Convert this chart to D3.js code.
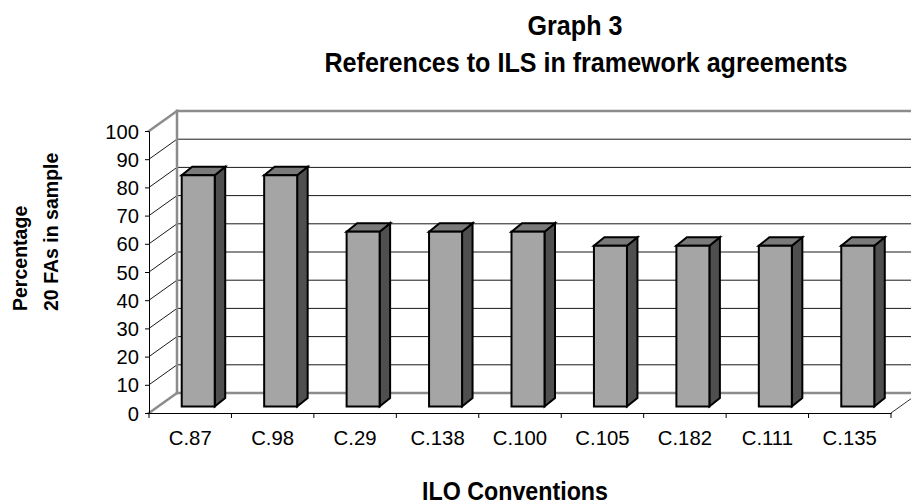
<!DOCTYPE html>
<html>
<head>
<meta charset="utf-8">
<script src="https://cdn.jsdelivr.net/npm/d3@7"></script>
<style>
  html, body { margin: 0; padding: 0; background: #ffffff; }
  svg { display: block; }
  text { font-family: "Liberation Sans", Arial, Helvetica, sans-serif; fill: #000; }
</style>
</head>
<body>
<svg id="chart" width="911" height="504"></svg>
<script>
// Share of the 20 framework agreements that cite each ILO convention
const categories = ["C.87", "C.98", "C.29", "C.138", "C.100", "C.105", "C.182", "C.111", "C.135"];
const values = [82, 82, 62, 62, 62, 57, 57, 57, 57];
const yTicks = [0, 10, 20, 30, 40, 50, 60, 70, 80, 90, 100];
const titleLines = ["Graph 3", "References to ILS in framework agreements"];
const yTitleLines = ["Percentage", "20 FAs in sample"];
const xTitle = "ILO Conventions";

const svg = d3.select("#chart");

// Front plane of the 3-D box
const x = d3.scaleBand().domain(categories).range([149, 891]).paddingInner(0).paddingOuter(0);
const y = d3.scaleLinear().domain([0, 100]).range([413, 131]);

// Oblique depth of the box (front plane -> back wall)
const depth = { dx: 28, dy: -20 };
const back = (px, py) => [px + depth.dx, py + depth.dy];

const wallGray = "#8c8c8c";
const x0 = x.range()[0], x1 = x.range()[1];

// Back-wall gridlines
svg.append("g").selectAll("line").data(yTicks.filter(t => t > 0 && t < 100)).join("line")
  .attr("x1", x0 + depth.dx).attr("x2", x1 + depth.dx)
  .attr("y1", d => y(d) + depth.dy).attr("y2", d => y(d) + depth.dy)
  .attr("stroke", "#1a1a1a").attr("stroke-width", 1);

// Side-wall gridlines running from the value axis to the back wall
svg.append("g").selectAll("line").data(yTicks.filter(t => t > 0 && t < 100)).join("line")
  .attr("x1", x0).attr("y1", d => y(d))
  .attr("x2", x0 + depth.dx).attr("y2", d => y(d) + depth.dy)
  .attr("stroke", "#1a1a1a").attr("stroke-width", 1);

// Wall and floor edges
const edges = [
  [[x0, y(100)], back(x0, y(100))],               // side wall top
  [back(x0, y(100)), back(x1, y(100))],           // back wall top
  [back(x0, y(100)), back(x0, y(0))],             // wall corner
  [[x0, y(0)], back(x0, y(0))],                   // floor left edge
  [back(x0, y(0)), back(x1, y(0))]                // floor back edge
];
svg.append("g").selectAll("line").data(edges).join("line")
  .attr("x1", d => d[0][0]).attr("y1", d => d[0][1])
  .attr("x2", d => d[1][0]).attr("y2", d => d[1][1])
  .attr("stroke", wallGray).attr("stroke-width", 2.5).attr("stroke-linecap", "square");

// Floor right edge
svg.append("line")
  .attr("x1", x1).attr("y1", y(0))
  .attr("x2", back(x1, y(0))[0]).attr("y2", back(x1, y(0))[1])
  .attr("stroke", "#333").attr("stroke-width", 1);

// Columns: front face, right side, top
const bar = { offX: 8, offY: -6.5, width: 33, dx: 10.5, dy: -8.5 };
const bars = svg.append("g").selectAll("g").data(categories.map((c, i) => ({ c, v: values[i] }))).join("g");

bars.each(function (d) {
  const g = d3.select(this);
  const cx = x(d.c) + x.bandwidth() / 2 + bar.offX;
  const l = cx - bar.width / 2, r = cx + bar.width / 2;
  const b = y(0) + bar.offY, t = y(d.v) + bar.offY;
  const poly = pts => pts.map(p => p.join(",")).join(" ");
  g.append("polygon")
    .attr("points", poly([[r, b], [r, t], [r + bar.dx, t + bar.dy], [r + bar.dx, b + bar.dy]]))
    .attr("fill", "#4f4f4f");
  g.append("polygon")
    .attr("points", poly([[l, t], [r, t], [r + bar.dx, t + bar.dy], [l + bar.dx, t + bar.dy]]))
    .attr("fill", "#7a7a7a");
  g.append("rect")
    .attr("x", l).attr("y", t).attr("width", r - l).attr("height", b - t)
    .attr("fill", "#a5a5a5");
  g.selectAll("polygon, rect")
    .attr("stroke", "#000").attr("stroke-width", 2).attr("stroke-linejoin", "miter");
});

// Value axis
const yAxis = svg.append("g")
  .attr("transform", `translate(${x0},0)`)
  .call(d3.axisLeft(y).tickValues(yTicks).tickSize(4).tickSizeOuter(0).tickPadding(6));
yAxis.select(".domain").attr("stroke", "#000");
yAxis.selectAll(".tick line").attr("stroke", "#000");
yAxis.selectAll("text").attr("font-size", 21)
  .attr("font-family", "'Liberation Sans', Arial, sans-serif")
  .attr("transform", "scale(0.96,1)").attr("x", -10 / 0.96).attr("dy", "0.34em");

// Category axis along the front edge of the floor
const xAxis = svg.append("g")
  .attr("transform", `translate(0,${y(0)})`)
  .call(d3.axisBottom(x).tickSize(0).tickSizeOuter(0).tickPadding(17));
xAxis.select(".domain").attr("stroke", "#000");
xAxis.selectAll("text").attr("font-size", 21)
  .attr("font-family", "'Liberation Sans', Arial, sans-serif");
xAxis.selectAll(".tick").each(function () {
  // narrow the labels slightly around their own centre
  d3.select(this).select("text").attr("transform", "scale(0.97,1)");
});

// Category boundary ticks
const boundaries = categories.map(c => x(c)).concat([x1]);
svg.append("g").selectAll("line").data(boundaries).join("line")
  .attr("x1", d => d).attr("x2", d => d)
  .attr("y1", y(0)).attr("y2", y(0) + 5)
  .attr("stroke", "#000").attr("stroke-width", 1);

// Chart title
svg.append("g").selectAll("text").data(titleLines).join("text")
  .attr("transform", (d, i) => `translate(${i === 0 ? 575 : 586},${i === 0 ? 35 : 72}) scale(0.93,1)`)
  .attr("text-anchor", "middle")
  .attr("font-size", 27).attr("font-weight", "bold")
  .text(d => d);

// Value axis title
svg.append("g").selectAll("text").data(yTitleLines).join("text")
  .attr("transform", (d, i) => `translate(${i === 0 ? 27 : 58},311) rotate(-90) scale(0.93,1)`)
  .attr("text-anchor", "start")
  .attr("font-size", 21).attr("font-weight", "bold")
  .text(d => d);

// Category axis title
svg.append("text")
  .attr("transform", "translate(515,500) scale(0.93,1)")
  .attr("text-anchor", "middle")
  .attr("font-size", 25).attr("font-weight", "bold")
  .text(xTitle);
</script>
</body>
</html>
